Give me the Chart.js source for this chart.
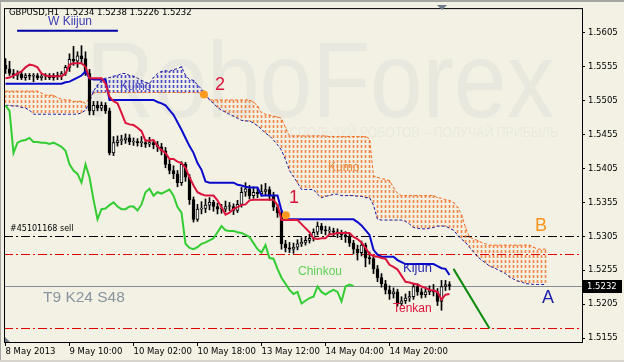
<!DOCTYPE html>
<html>
<head>
<meta charset="utf-8">
<script src="https://cdn.jsdelivr.net/npm/chart.js@4.4.0/dist/chart.umd.min.js"></script>
<style>
  html, body { margin: 0; padding: 0; background: #f3f1e4; }
  canvas { display: block; }
</style>
</head>
<body>
<canvas id="chart" width="624" height="362"></canvas>
<script>
// GBPUSD H1 candles, bar index 0 = 8 May 2013 18:00
var opens = [
  1.5557,1.5552,1.5545,1.5542,1.5544,1.5539,1.5542,1.5541,1.5542,1.5539,
  1.5541,1.5542,1.5539,1.5542,1.5541,1.5545,1.5554,1.5566,1.5563,1.5571,
  1.5567,1.5545,1.5490,1.5498,1.5494,1.5498,1.5490,1.5428,1.5443,1.5446,
  1.5447,1.5450,1.5444,1.5444,1.5443,1.5443,1.5441,1.5443,1.5440,1.5437,
  1.5431,1.5411,1.5402,1.5397,1.5384,1.5411,1.5392,1.5359,1.5330,1.5345,
  1.5346,1.5351,1.5355,1.5349,1.5345,1.5345,1.5349,1.5349,1.5343,1.5352,
  1.5370,1.5375,1.5365,1.5370,1.5368,1.5371,1.5374,1.5365,1.5348,1.5340,
  1.5294,1.5288,1.5286,1.5289,1.5294,1.5296,1.5299,1.5302,1.5311,1.5320,
  1.5314,1.5313,1.5313,1.5311,1.5310,1.5307,1.5304,1.5295,1.5286,1.5281,
  1.5292,1.5273,1.5272,1.5257,1.5244,1.5235,1.5226,1.5220,1.5223,1.5206,
  1.5210,1.5214,1.5216,1.5231,1.5223,1.5219,1.5223,1.5226,1.5223,1.5209,
  1.5231,1.5234
];
var highs = [
  1.5567,1.5563,1.5551,1.5549,1.5548,1.5545,1.5545,1.5545,1.5545,1.5544,
  1.5545,1.5545,1.5545,1.5547,1.5548,1.5557,1.5574,1.5585,1.5577,1.5586,
  1.5577,1.5551,1.5504,1.5504,1.5503,1.5502,1.5494,1.5452,1.5453,1.5454,
  1.5456,1.5455,1.5450,1.5449,1.5452,1.5448,1.5451,1.5447,1.5445,1.5442,
  1.5436,1.5418,1.5409,1.5402,1.5415,1.5414,1.5396,1.5363,1.5352,1.5356,
  1.5360,1.5362,1.5358,1.5354,1.5352,1.5357,1.5355,1.5353,1.5358,1.5377,
  1.5384,1.5380,1.5378,1.5376,1.5381,1.5383,1.5378,1.5370,1.5352,1.5343,
  1.5299,1.5296,1.5295,1.5300,1.5303,1.5305,1.5308,1.5316,1.5326,1.5324,
  1.5320,1.5319,1.5317,1.5316,1.5314,1.5312,1.5309,1.5299,1.5292,1.5298,
  1.5295,1.5282,1.5276,1.5262,1.5250,1.5240,1.5232,1.5229,1.5227,1.5216,
  1.5220,1.5224,1.5236,1.5235,1.5228,1.5230,1.5232,1.5234,1.5228,1.5240,
  1.5240,1.5238
];
var lows = [
  1.5545,1.5542,1.5538,1.5536,1.5536,1.5535,1.5536,1.5533,1.5536,1.5535,
  1.5536,1.5536,1.5535,1.5536,1.5536,1.5542,1.5548,1.5557,1.5554,1.5560,
  1.5542,1.5484,1.5484,1.5490,1.5490,1.5486,1.5425,1.5424,1.5438,1.5440,
  1.5442,1.5440,1.5439,1.5438,1.5437,1.5436,1.5437,1.5434,1.5430,1.5425,
  1.5406,1.5397,1.5390,1.5378,1.5380,1.5386,1.5352,1.5326,1.5327,1.5338,
  1.5340,1.5344,1.5342,1.5338,1.5339,1.5341,1.5343,1.5337,1.5340,1.5348,
  1.5364,1.5360,1.5361,1.5362,1.5364,1.5366,1.5358,1.5343,1.5333,1.5286,
  1.5282,1.5281,1.5280,1.5285,1.5290,1.5292,1.5295,1.5298,1.5307,1.5309,
  1.5307,1.5308,1.5305,1.5303,1.5300,1.5296,1.5290,1.5279,1.5270,1.5276,
  1.5260,1.5264,1.5250,1.5238,1.5230,1.5220,1.5212,1.5214,1.5202,1.5203,
  1.5206,1.5209,1.5212,1.5218,1.5214,1.5215,1.5219,1.5217,1.5203,1.5196,
  1.5225,1.5226
];
var closes = [
  1.5552,1.5545,1.5542,1.5544,1.5539,1.5542,1.5541,1.5542,1.5539,1.5541,
  1.5542,1.5539,1.5542,1.5541,1.5545,1.5554,1.5566,1.5563,1.5571,1.5567,
  1.5545,1.5490,1.5498,1.5494,1.5498,1.5490,1.5428,1.5443,1.5446,1.5447,
  1.5450,1.5444,1.5444,1.5443,1.5443,1.5441,1.5443,1.5440,1.5437,1.5431,
  1.5411,1.5402,1.5397,1.5384,1.5411,1.5392,1.5359,1.5330,1.5345,1.5346,
  1.5351,1.5355,1.5349,1.5345,1.5345,1.5349,1.5349,1.5343,1.5352,1.5370,
  1.5375,1.5365,1.5370,1.5368,1.5371,1.5374,1.5365,1.5348,1.5340,1.5294,
  1.5288,1.5286,1.5289,1.5294,1.5296,1.5299,1.5302,1.5311,1.5320,1.5314,
  1.5313,1.5313,1.5311,1.5310,1.5307,1.5304,1.5295,1.5286,1.5281,1.5292,
  1.5273,1.5272,1.5257,1.5244,1.5235,1.5226,1.5220,1.5223,1.5206,1.5210,
  1.5214,1.5216,1.5231,1.5223,1.5219,1.5223,1.5226,1.5223,1.5209,1.5231,
  1.5234,1.5232
];

// Ichimoku (9 / 24 / 48)
var tenkan = [
  1.5538,1.5539,1.5542,1.5545,1.5548,1.5554,1.5558,1.5557,1.5554,1.5545,
  1.5542,1.5541,1.5541,1.5541,1.5541,1.5545,1.5558,1.5560,1.5560,1.5560,
  1.5555,1.5538,1.5538,1.5538,1.5538,1.5530,1.5511,1.5504,1.5501,1.5487,
  1.5472,1.5470,1.5469,1.5465,1.5460,1.5446,1.5446,1.5447,1.5438,1.5432,
  1.5428,1.5419,1.5419,1.5415,1.5413,1.5406,1.5392,1.5380,1.5370,1.5367,
  1.5365,1.5365,1.5365,1.5358,1.5348,1.5337,1.5340,1.5345,1.5348,1.5351,
  1.5352,1.5358,1.5359,1.5359,1.5359,1.5359,1.5359,1.5359,1.5351,1.5329,
  1.5329,1.5329,1.5329,1.5329,1.5323,1.5317,1.5311,1.5302,1.5301,1.5302,
  1.5302,1.5308,1.5308,1.5310,1.5310,1.5310,1.5310,1.5304,1.5301,1.5296,
  1.5288,1.5279,1.5276,1.5275,1.5273,1.5272,1.5263,1.5260,1.5256,1.5247,
  1.5238,1.5237,1.5235,1.5234,1.5231,1.5229,1.5226,1.5225,1.5223,1.5212,
  1.5219,1.5220
];
var kijun = [
  1.5530,1.5530,1.5530,1.5530,1.5530,1.5530,1.5530,1.5530,1.5530,1.5530,
  1.5530,1.5530,1.5530,1.5530,1.5530,1.5532,1.5533,1.5536,1.5539,1.5542,
  1.5548,1.5538,1.5536,1.5536,1.5536,1.5536,1.5506,1.5506,1.5506,1.5506,
  1.5506,1.5506,1.5506,1.5506,1.5506,1.5506,1.5506,1.5506,1.5503,1.5501,
  1.5498,1.5491,1.5484,1.5473,1.5462,1.5450,1.5438,1.5428,1.5413,1.5403,
  1.5386,1.5384,1.5384,1.5384,1.5384,1.5384,1.5384,1.5384,1.5381,1.5380,
  1.5378,1.5377,1.5377,1.5377,1.5365,1.5365,1.5365,1.5365,1.5365,1.5343,
  1.5330,1.5330,1.5330,1.5330,1.5330,1.5330,1.5330,1.5330,1.5330,1.5330,
  1.5330,1.5330,1.5330,1.5330,1.5330,1.5330,1.5330,1.5330,1.5326,1.5321,
  1.5314,1.5307,1.5285,1.5278,1.5275,1.5275,1.5275,1.5275,1.5270,1.5267,
  1.5264,1.5264,1.5264,1.5264,1.5264,1.5264,1.5264,1.5264,1.5261,1.5258,
  1.5257,1.5248
];
// senkou spans, already shifted 24 bars forward (136 bars)
var spanA = [
  1.5498,1.5498,1.5497,1.5497,1.5495,1.5494,1.5491,1.5485,1.5485,1.5485,
  1.5485,1.5485,1.5485,1.5485,1.5485,1.5485,1.5485,1.5485,1.5485,1.5487,
  1.5491,1.5503,1.5519,1.5528,1.5535,1.5538,1.5539,1.5541,1.5542,1.5545,
  1.5545,1.5542,1.5541,1.5538,1.5535,1.5532,1.5530,1.5539,1.5545,1.5548,
  1.5549,1.5548,1.5551,1.5552,1.5555,1.5542,1.5536,1.5535,1.5528,1.5522,
  1.5516,1.5506,1.5501,1.5495,1.5491,1.5488,1.5485,1.5482,1.5479,1.5476,
  1.5475,1.5475,1.5472,1.5468,1.5463,1.5457,1.5453,1.5447,1.5440,1.5432,
  1.5418,1.5402,1.5393,1.5384,1.5374,1.5374,1.5374,1.5374,1.5367,1.5362,
  1.5364,1.5365,1.5367,1.5367,1.5365,1.5365,1.5365,1.5365,1.5364,1.5364,
  1.5362,1.5362,1.5351,1.5330,1.5329,1.5329,1.5329,1.5329,1.5329,1.5329,
  1.5327,1.5323,1.5318,1.5317,1.5316,1.5316,1.5317,1.5318,1.5320,1.5320,
  1.5320,1.5317,1.5314,1.5307,1.5301,1.5296,1.5289,1.5282,1.5275,1.5270,
  1.5266,1.5261,1.5259,1.5256,1.5253,1.5250,1.5245,1.5242,1.5239,1.5238,
  1.5235,1.5235,1.5234,1.5234,1.5234,1.5234
];
var spanB = [
  1.5519,1.5519,1.5519,1.5519,1.5519,1.5519,1.5519,1.5519,1.5519,1.5516,
  1.5513,1.5513,1.5513,1.5509,1.5507,1.5506,1.5506,1.5504,1.5504,1.5504,
  1.5501,1.5509,1.5516,1.5517,1.5517,1.5517,1.5517,1.5517,1.5517,1.5517,
  1.5517,1.5517,1.5517,1.5517,1.5517,1.5517,1.5517,1.5517,1.5517,1.5517,
  1.5517,1.5517,1.5517,1.5517,1.5517,1.5517,1.5517,1.5517,1.5517,1.5516,
  1.5513,1.5506,1.5506,1.5506,1.5506,1.5506,1.5506,1.5506,1.5506,1.5506,
  1.5506,1.5506,1.5503,1.5497,1.5487,1.5485,1.5484,1.5482,1.5481,1.5479,
  1.5465,1.5453,1.5453,1.5453,1.5453,1.5453,1.5453,1.5453,1.5453,1.5453,
  1.5453,1.5452,1.5452,1.5452,1.5452,1.5452,1.5452,1.5452,1.5452,1.5452,
  1.5452,1.5449,1.5394,1.5392,1.5390,1.5389,1.5387,1.5377,1.5368,1.5365,
  1.5365,1.5365,1.5365,1.5365,1.5365,1.5365,1.5365,1.5365,1.5362,1.5361,
  1.5359,1.5358,1.5355,1.5348,1.5337,1.5318,1.5304,1.5301,1.5299,1.5296,
  1.5294,1.5292,1.5292,1.5292,1.5292,1.5292,1.5292,1.5292,1.5292,1.5292,
  1.5292,1.5292,1.5289,1.5286,1.5286,1.5286
];
var chinkouShift = 24;

var xTickBars = [0, 16, 32, 48, 64, 80, 96];
var xTickLabels = ['8 May 2013', '9 May 10:00', '10 May 02:00', '10 May 18:00',
                   '13 May 12:00', '14 May 04:00', '14 May 20:00'];
var priceTicks = [1.5155, 1.5205, 1.5255, 1.5305, 1.5355, 1.5405, 1.5455, 1.5505, 1.5555, 1.5605];

// drawn objects
var levelPrices = [1.5305, 1.5279, 1.5170];
var lastPrice = 1.5232;
var trendBars = [112, 121];
var trendPrices = [1.5257, 1.5169];
var weeklyKijunBars = [2.9, 28.1];
var weeklyKijun = [1.5608, 1.5608];
var twistBars = [49.6, 70.1];
var twistPrices = [1.5514, 1.5336];

var canvas = document.getElementById('chart');
var g = canvas.getContext('2d');

function hatch(color) {
  var t = document.createElement('canvas');
  t.width = 1; t.height = 5;
  var tg = t.getContext('2d');
  tg.fillStyle = color;
  tg.fillRect(0, 0, 1, 3);
  return g.createPattern(t, 'repeat');
}
var orangeHatch = hatch('#f2874a');
var blueHatch = hatch('#4a4acb');

var font = '"DejaVu Sans", sans-serif';
Chart.defaults.font.family = font;
Chart.defaults.font.size = 8.5;
Chart.defaults.color = '#000';

var cloud = spanA.map(function (a, i) { return { x: i, y: [a, spanB[i]] }; });
var cloudColors = spanA.map(function (a, i) { return spanB[i] > a ? orangeHatch : blueHatch; });
var wicks = lows.map(function (l, i) { return { x: i, y: [l, highs[i]] }; });
var bodies = opens.map(function (o, i) { return { x: i, y: [o, closes[i]] }; });
var bodyColors = opens.map(function (o, i) { return closes[i] >= o ? '#ffffff' : '#000000'; });
var line = function (arr) { return arr.map(function (v, i) { return { x: i, y: v }; }); };
var chinkou = closes.slice(chinkouShift).map(function (v, i) { return { x: i, y: v }; });

function pairs(xs, ys) { return xs.map(function (x, i) { return { x: x, y: ys[i] }; }); }

var chrome = {
  id: 'chrome',
  beforeDraw: function (chart) {
    var c = chart.ctx, w = chart.width, h = chart.height;
    c.save();
    c.fillStyle = '#f3f1e4';
    c.fillRect(0, 0, w, h);
    c.fillStyle = '#a4a4a0';
    c.fillRect(0, 0, w, 2);
    c.fillRect(0, 0, 1, h);
    c.fillStyle = '#d6d4cc';
    c.fillRect(0, h - 2, w, 2);
    // watermark
    c.fillStyle = '#e9e8de';
    c.textBaseline = 'alphabetic';
    c.font = '107px "Liberation Sans", Arial, sans-serif';
    c.fillText('RoboForex', 86, 117, 468);
    c.font = '14px "Liberation Sans", Arial, sans-serif';
    c.fillText('ИСПОЛЬЗУЙ РОБОТОВ – ПОЛУЧАЙ ПРИБЫЛЬ', 280, 137, 278);
    c.restore();
  },
  beforeDatasetsDraw: function (chart) {
    var c = chart.ctx, a = chart.chartArea, y = chart.scales.y;
    var colors = ['#000000', '#e00000', '#e00000'];
    c.save();
    c.lineWidth = 1;
    levelPrices.forEach(function (p, i) {
      var py = Math.round(y.getPixelForValue(p)) + 0.5;
      c.strokeStyle = colors[i];
      c.setLineDash([9, 3, 2, 3]);
      c.beginPath(); c.moveTo(a.left, py); c.lineTo(a.right, py); c.stroke();
    });
    c.setLineDash([]);
    c.strokeStyle = '#878c94';
    var ly = Math.round(y.getPixelForValue(lastPrice)) + 0.5;
    c.beginPath(); c.moveTo(a.left, ly); c.lineTo(a.right, ly); c.stroke();
    c.restore();
  },
  afterDatasetsDraw: function (chart) {
    var c = chart.ctx, a = chart.chartArea, y = chart.scales.y;
    c.save();
    c.textBaseline = 'middle';
    function txt(s, x, yy, size, color, fam) {
      c.font = size + 'px ' + (fam || '"Liberation Sans", Arial, sans-serif');
      c.fillStyle = color;
      c.fillText(s, x, yy);
    }
    txt('GBPUSD,H1  1.5234 1.5238 1.5226 1.5232', 9, 13, 8.5, '#000', font);
    txt('W Kiijun', 48, 22, 12, '#3c3cb4');
    txt('Kumo', 120, 87, 12, '#4646c0');
    txt('2', 215, 85, 18, '#dc143c');
    txt('Kumo', 328, 168, 12, '#e8893a');
    txt('1', 289, 198, 18, '#dc143c');
    txt('B', 535, 226, 18, '#f7941d');
    txt('A', 542, 298, 18, '#1f1faa');
    txt('Kijun', 403, 268, 13, '#2b2bb0');
    txt('Tenkan', 393, 309, 12, '#dc143c');
    txt('Chinkou', 298, 272, 12, '#62d05a');
    txt('T9 K24 S48', 43, 298, 15.5, '#8894a0');
    txt('#45101168 sell', 10, 229, 8, '#000', font);
    // chart border
    c.strokeStyle = '#000';
    c.lineWidth = 1;
    c.strokeRect(a.left + 0.5, a.top + 0.5, a.right - a.left, a.bottom - a.top);
    // shift markers
    c.fillStyle = '#6e7b8b';
    c.beginPath(); c.moveTo(437, 5); c.lineTo(447, 5); c.lineTo(442, 10); c.closePath(); c.fill();
    c.beginPath(); c.moveTo(5, 337); c.lineTo(5, 342); c.lineTo(10, 342); c.closePath(); c.fill();
    // last price label
    var ly = Math.round(y.getPixelForValue(lastPrice));
    c.fillStyle = '#000';
    c.fillRect(a.right + 1, ly - 6, 39, 13);
    txt(lastPrice.toFixed(4), a.right + 5, ly + 0.5, 8.5, '#fff', font);
    c.restore();
  }
};

new Chart(canvas, {
  type: 'bar',
  data: {
    datasets: [
      { type: 'scatter', data: pairs(twistBars, twistPrices), pointRadius: 4,
        backgroundColor: '#ff9a1f', borderWidth: 0, order: 1 },
      { type: 'line', data: pairs(trendBars, trendPrices), borderColor: '#0d8a0d',
        borderWidth: 2, pointRadius: 0, order: 2 },
      { type: 'line', data: pairs(weeklyKijunBars, weeklyKijun), borderColor: '#0000a8',
        borderWidth: 2, pointRadius: 0, order: 2 },
      { type: 'line', data: line(tenkan), borderColor: '#dc143c', borderWidth: 2,
        pointRadius: 0, tension: 0, order: 3 },
      { type: 'line', data: line(kijun), borderColor: '#0a0acd', borderWidth: 2,
        pointRadius: 0, tension: 0, order: 4 },
      { type: 'line', data: chinkou, borderColor: '#32cd32', borderWidth: 2,
        pointRadius: 0, tension: 0, order: 5 },
      { data: bodies, backgroundColor: bodyColors, borderColor: '#000', borderWidth: 1,
        borderSkipped: false, barThickness: 3, minBarLength: 1, grouped: false, order: 6 },
      { data: wicks, backgroundColor: '#000', barThickness: 1, grouped: false, order: 7 },
      { type: 'line', data: line(spanA), borderColor: '#1a1aa0', borderWidth: 1,
        borderDash: [3, 2], pointRadius: 0, order: 8 },
      { type: 'line', data: line(spanB), borderColor: '#f26b21', borderWidth: 1,
        borderDash: [3, 2], pointRadius: 0, order: 8 },
      { data: cloud, backgroundColor: cloudColors, barThickness: 1, grouped: false, order: 10 }
    ]
  },
  options: {
    responsive: false,
    animation: false,
    devicePixelRatio: 1,
    layout: { padding: { left: 4, top: 4, right: 0, bottom: 0 } },
    plugins: { legend: { display: false }, tooltip: { enabled: false } },
    scales: {
      x: {
        type: 'linear', min: -0.375, max: 144.125, offset: false,
        grid: { drawOnChartArea: false, offset: false, color: '#000', tickLength: 4 },
        border: { display: false },
        ticks: {
          autoSkip: false, maxRotation: 0, align: 'start', padding: 1,
          callback: function (v, i) { return xTickLabels[i]; }
        },
        afterBuildTicks: function (s) { s.ticks = xTickBars.map(function (v) { return { value: v }; }); },
        afterFit: function (s) { s.height = 20; }
      },
      y: {
        position: 'right', min: 1.51492, max: 1.56414, beginAtZero: false,
        grid: { drawOnChartArea: false, color: '#000', tickLength: 3 },
        border: { display: false },
        ticks: {
          autoSkip: false, padding: 3,
          callback: function (v) { return v.toFixed(4); }
        },
        afterBuildTicks: function (s) { s.ticks = priceTicks.map(function (v) { return { value: v }; }); },
        afterFit: function (s) { s.width = 42; }
      }
    }
  },
  plugins: [chrome]
});
</script>
</body>
</html>
